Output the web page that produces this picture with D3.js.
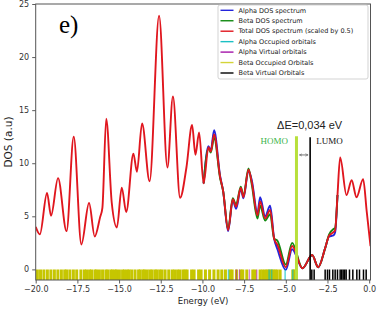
<!DOCTYPE html>
<html>
<head>
<meta charset="utf-8">
<script src="https://cdn.jsdelivr.net/npm/d3@7"></script>
<style>
body { margin: 0; background: #fff; }
text { font-family: "DejaVu Sans", sans-serif; }
</style>
</head>
<body>
<div id="chart"></div>
<script>
//////////////////////////////////////////////////////////////////////////////
// Data: [energy (eV), DOS (a.u)]

var totalDos = [
    [-20.0, 4.0], [-19.75, 3.3], [-19.32, 7.2], [-19.08, 5.05], [-18.66, 8.6],
    [-18.15, 3.6], [-17.72, 12.5], [-17.26, 2.35], [-16.8, 6.25], [-16.46, 3.1],
    [-16.14, 4.9], [-16.0, 5.8], [-15.77, 14.2], [-15.44, 6.3], [-15.13, 3.95],
    [-14.84, 7.7], [-14.57, 5.4], [-14.14, 10.9], [-13.93, 9.2], [-13.62, 13.75],
    [-13.17, 8.3], [-12.6, 23.9], [-12.1, 9.6], [-11.77, 16.3], [-11.34, 6.75],
    [-10.96, 9.6], [-10.62, 13.6], [-10.42, 10.8], [-10.2, 12.9], [-9.93, 8.1],
    [-9.64, 11.5], [-9.5, 11.1], [-9.3, 12.7], [-8.94, 8.7], [-8.76, 7.4],
    [-8.46, 3.7], [-8.18, 6.6], [-7.98, 5.9], [-7.7, 7.7], [-7.54, 6.8],
    [-7.24, 9.4], [-7.04, 8.2], [-6.7, 5.1], [-6.54, 6.4], [-6.24, 4.8],
    [-5.94, 5.6], [-5.7, 2.9], [-5.5, 2.3], [-5.0, 0.2], [-4.62, 2.2],
    [-4.0, 0.1], [-3.42, 1.35], [-3.06, 0.2], [-2.64, 2.0], [-2.4, 3.2],
    [-2.14, 3.5], [-2.04, 3.7], [-1.9, 7.0], [-1.74, 10.55], [-1.36, 7.0],
    [-1.05, 8.4], [-0.76, 6.8], [-0.36, 8.5], [-0.15, 5.5], [0.08, 2.2]
];

// alpha / beta spectra only peek out from under the red curve in this range
var alphaDos = [
    [-9.93, 8.1], [-9.64, 11.6], [-9.5, 11.2], [-9.3, 13.1], [-8.94, 8.8],
    [-8.76, 7.4], [-8.46, 3.6], [-8.18, 6.5], [-7.98, 5.7], [-7.7, 7.6],
    [-7.54, 6.7], [-7.24, 9.3], [-7.04, 8.4], [-6.7, 5.3], [-6.54, 6.8],
    [-6.24, 5.0], [-5.94, 6.0], [-5.7, 2.9], [-5.5, 1.9], [-5.0, -0.05],
    [-4.62, 1.9], [-4.0, 0.1], [-3.42, 1.35], [-3.06, 0.2], [-2.64, 2.0],
    [-2.4, 3.1], [-2.14, 3.2], [-2.04, 3.5], [-1.9, 7.0]
];
var betaDos = [
    [-9.93, 8.1], [-9.64, 11.4], [-9.5, 11.0], [-9.3, 12.4], [-8.94, 8.6],
    [-8.76, 7.4], [-8.46, 3.8], [-8.18, 6.7], [-7.98, 6.1], [-7.7, 7.8],
    [-7.54, 6.9], [-7.24, 9.5], [-7.04, 8.0], [-6.7, 4.8], [-6.54, 6.0],
    [-6.24, 4.6], [-5.94, 5.2], [-5.7, 2.9], [-5.5, 2.7], [-5.0, 0.45],
    [-4.62, 2.5], [-4.0, 0.1], [-3.42, 1.35], [-3.06, 0.2], [-2.64, 2.0],
    [-2.4, 3.3], [-2.14, 3.8], [-2.04, 3.9], [-1.9, 7.0]
];

// orbital energies (eV), drawn as sticks under y = 0
var betaOccupied = [
    -19.90, -19.71, -19.51, -19.30, -19.09, -18.88, -18.67, -18.46, -18.26, -18.14,
    -17.95, -17.74, -17.54, -17.29, -17.08, -16.95, -16.77, -16.65, -16.45, -16.35,
    -16.18, -15.99, -15.79, -15.67, -15.49, -15.39, -15.24, -15.15, -14.98, -14.79,
    -14.67, -14.51, -14.40, -14.24, -14.04, -13.83, -13.73, -13.56, -13.47, -13.31,
    -13.14, -13.02, -12.84, -12.73, -12.56, -12.43, -12.24, -12.02, -11.81, -11.67,
    -11.49, -11.35, -11.16, -11.04, -10.92, -10.65, -10.50, -10.23, -10.08, -9.82,
    -9.57, -9.31, -9.06, -8.84, -8.62, -8.34, -8.22, -7.96, -7.70, -7.58,
    -7.34, -6.98, -6.84, -6.54, -6.39, -6.24, -6.12, -6.00, -5.88, -5.76,
    -5.64, -5.52, -5.34, -4.58, -4.47, -4.38
];
var alphaOccupied = [-8.44, -6.00, -5.85, -5.04, -4.58];
var alphaVirtual = [-7.96, -7.78, -7.18, -6.74];
var betaVirtual = [
    -3.44, -3.30, -2.64, -2.50, -2.38, -2.18, -2.04, -1.90, -1.74, -1.65,
    -1.56, -1.47, -1.38, -1.18, -0.98, -0.74, -0.58, -0.34, -0.18
];

var homoE = -4.36;
var lumoE = -3.54;
var gapText = "ΔE=0,034 eV";

var legendNames = [
    "Alpha DOS spectrum", "Beta DOS spectrum", "Total DOS spectrum (scaled by 0.5)",
    "Alpha Occupied orbitals", "Alpha Virtual orbitals", "Beta Occupied Orbitals",
    "Beta Virtual Orbitals"
];
var legendColors = ["#2424dc", "#108a10", "#e0161e", "#1cc0c4", "#a414a8", "#d4d438", "#000000"];

var xTicks = [-20, -17.5, -15, -12.5, -10, -7.5, -5, -2.5, 0];
var yTicks = [0, 5, 10, 15, 20, 25];

//////////////////////////////////////////////////////////////////////////////
// Setup

var svgW = 378, svgH = 309;
var plotL = 35.7, plotR = 370.5, plotT = 4, plotB = 280;

var x = d3.scaleLinear().domain([-20, 0.08]).range([plotL, plotR]);
var y = d3.scaleLinear().domain([-1, 25]).range([plotB, plotT]);

var svg = d3.select("#chart").append("svg")
    .attr("width", svgW)
    .attr("height", svgH);

var defs = svg.append("defs");
defs.append("clipPath").attr("id", "plotClip")
    .append("rect")
    .attr("x", plotL).attr("y", plotT)
    .attr("width", plotR - plotL).attr("height", plotB - plotT);

var plot = svg.append("g").attr("clip-path", "url(#plotClip)");

var line = d3.line()
    .x(function(d) { return x(d[0]); })
    .y(function(d) { return y(d[1]); })
    .curve(d3.curveMonotoneX);

function drawCurve(data, color, w) {
    plot.append("path")
        .datum(data)
        .attr("d", line)
        .attr("fill", "none")
        .attr("stroke", color)
        .attr("stroke-width", w)
        .attr("stroke-linejoin", "round");
}

drawCurve(alphaDos, legendColors[0], 1.9);
drawCurve(betaDos, legendColors[1], 1.9);
drawCurve(totalDos, legendColors[2], 1.9);

function drawSticks(data, color, w, op) {
    plot.append("g")
        .selectAll("line")
        .data(data)
        .enter()
        .append("line")
        .attr("x1", function(d) { return x(d); })
        .attr("x2", function(d) { return x(d); })
        .attr("y1", y(-1))
        .attr("y2", y(0))
        .attr("stroke", color)
        .attr("stroke-width", w)
        .attr("opacity", op);
}

drawSticks(betaOccupied, "#c6c600", 3.0, 1);
drawSticks(alphaOccupied, "#00bfc4", 1.6, 0.6);
drawSticks(alphaVirtual, "#b000b4", 1.4, 0.5);
drawSticks(betaVirtual, "#000", 1.5, 1);

// HOMO / LUMO markers
plot.append("line")
    .attr("x1", x(homoE)).attr("x2", x(homoE))
    .attr("y1", y(12.55)).attr("y2", y(-1))
    .attr("stroke", "#b8e03c").attr("stroke-width", 3);

plot.append("line")
    .attr("x1", x(lumoE)).attr("x2", x(lumoE))
    .attr("y1", y(12.45)).attr("y2", y(-1))
    .attr("stroke", "#000").attr("stroke-width", 1.6);

defs.append("marker").attr("id", "head")
    .attr("viewBox", "0 0 10 10").attr("refX", 9).attr("refY", 5)
    .attr("markerWidth", 4).attr("markerHeight", 4)
    .attr("orient", "auto-start-reverse")
    .append("path").attr("d", "M0,1 L9,5 L0,9").attr("fill", "none")
    .attr("stroke", "#555").attr("stroke-width", 1.5);

svg.append("line")
    .attr("x1", x(homoE) + 3).attr("x2", x(lumoE) - 2)
    .attr("y1", y(10.78)).attr("y2", y(10.78))
    .attr("stroke", "#555").attr("stroke-width", 0.8)
    .attr("marker-start", "url(#head)")
    .attr("marker-end", "url(#head)");

svg.append("text")
    .attr("x", x(-3.57)).attr("y", y(13.2))
    .attr("text-anchor", "middle")
    .style("font-family", "Liberation Sans")
    .style("font-size", "11px")
    .attr("fill", "#222")
    .text(gapText);

svg.append("text")
    .attr("x", x(-4.86)).attr("y", y(11.85))
    .attr("text-anchor", "end")
    .style("font-family", "Liberation Serif")
    .style("font-size", "9px")
    .attr("fill", "#3cb44b")
    .text("HOMO");

svg.append("text")
    .attr("x", x(-3.18)).attr("y", y(11.85))
    .style("font-family", "Liberation Serif")
    .style("font-size", "9px")
    .attr("fill", "#111")
    .text("LUMO");

svg.append("text")
    .attr("x", 59).attr("y", 33)
    .style("font-family", "Liberation Serif")
    .style("font-size", "25px")
    .attr("fill", "#000")
    .text("e)");

//////////////////////////////////////////////////////////////////////////////
// Axes

var xAxis = svg.append("g")
    .attr("transform", "translate(0," + plotB + ")")
    .call(d3.axisBottom(x).tickValues(xTicks).tickFormat(d3.format(".1f"))
        .tickSize(3.5).tickPadding(2.5));

var yAxis = svg.append("g")
    .attr("transform", "translate(" + plotL + ",0)")
    .call(d3.axisLeft(y).tickValues(yTicks).tickSize(3.5).tickPadding(3));

[xAxis, yAxis].forEach(function(a) {
    a.select(".domain").remove();
    a.selectAll("line").attr("stroke", "#333").attr("stroke-width", 0.8);
    a.selectAll("text").attr("fill", "#333")
        .style("font-family", "DejaVu Sans").style("font-size", "8px");
});

svg.append("rect")
    .attr("x", plotL).attr("y", plotT)
    .attr("width", plotR - plotL).attr("height", plotB - plotT)
    .attr("fill", "none").attr("stroke", "#555").attr("stroke-width", 1);

svg.append("text")
    .attr("x", (plotL + plotR) / 2).attr("y", 304)
    .attr("text-anchor", "middle")
    .style("font-size", "8.6px")
    .attr("fill", "#222")
    .text("Energy (eV)");

svg.append("text")
    .attr("transform", "translate(12," + (plotT + plotB) / 2 + ") rotate(-90)")
    .attr("text-anchor", "middle")
    .style("font-size", "10.5px")
    .attr("fill", "#222")
    .text("DOS (a.u)");

//////////////////////////////////////////////////////////////////////////////
// Legend

var legend = svg.append("g");
legend.append("rect")
    .attr("x", 218).attr("y", 5).attr("width", 150).attr("height", 74)
    .attr("rx", 2).attr("fill", "#fff").attr("fill-opacity", 0.9)
    .attr("stroke", "#c8c8c8").attr("stroke-width", 0.8);

var rows = legend.selectAll("g.row")
    .data(legendNames)
    .enter()
    .append("g")
    .attr("class", "row")
    .attr("transform", function(d, i) { return "translate(0," + (10.3 + i * 10.45) + ")"; });

rows.append("line")
    .attr("x1", 220.5).attr("x2", 233.5)
    .attr("stroke", function(d, i) { return legendColors[i]; })
    .attr("stroke-width", 1.4);

rows.append("text")
    .attr("x", 238.5).attr("dy", "0.35em")
    .style("font-size", "6.5px")
    .attr("fill", "#222")
    .text(function(d) { return d; });
</script>
</body>
</html>
